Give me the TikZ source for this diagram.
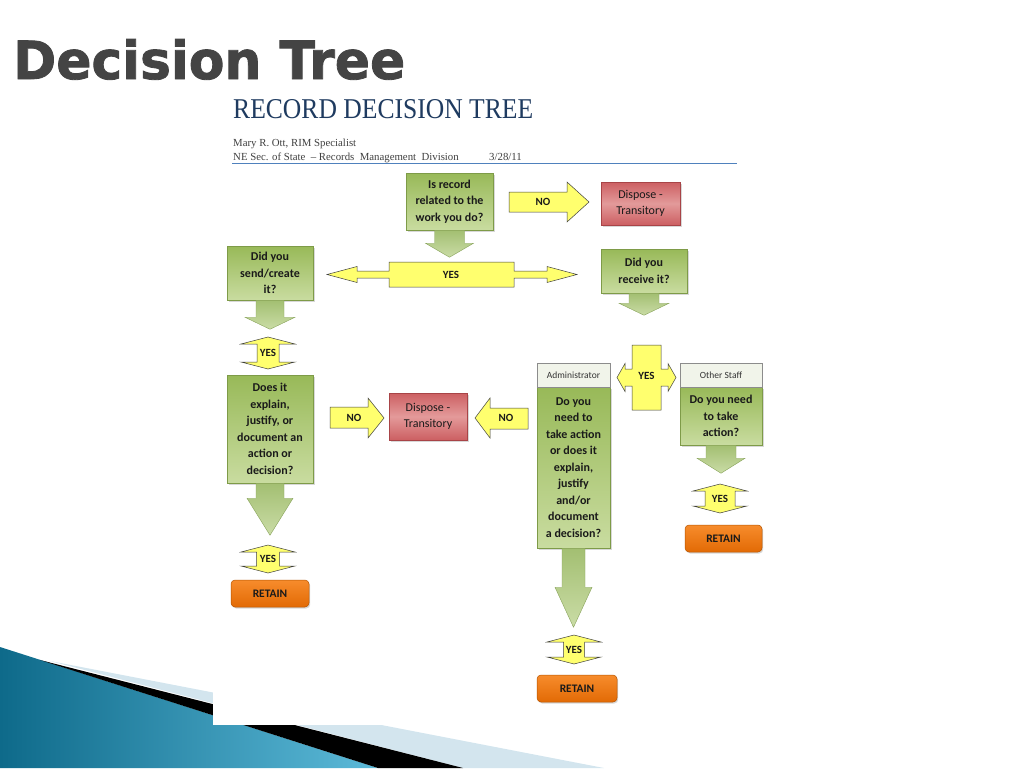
\documentclass[tikz,border=0pt]{standalone}
\usepackage{fontspec}
\setmainfont{Liberation Serif}
\newfontfamily\calfont{Carlito}
\newfontfamily\titlefont[FakeBold=1.6]{DejaVu Sans}
\usetikzlibrary{shadows,calc}
\definecolor{gtop}{HTML}{98B958}
\definecolor{gbot}{HTML}{C9DCA0}
\definecolor{gedge}{HTML}{7E9B48}
\definecolor{atop}{HTML}{A3BF72}
\definecolor{abot}{HTML}{CADCA6}
\definecolor{aedge}{HTML}{88A35A}
\definecolor{rtop}{HTML}{CC5F62}
\definecolor{rmid}{HTML}{E39A9A}
\definecolor{redge}{HTML}{A84447}
\definecolor{otop}{HTML}{F78C2C}
\definecolor{obot}{HTML}{E26A05}
\definecolor{oedge}{HTML}{B55400}
\definecolor{yfill}{HTML}{FFFF6E}
\definecolor{hfill}{HTML}{F1F4EA}
\definecolor{navy}{HTML}{1F3B60}
\definecolor{rulecol}{HTML}{4F81BD}
\definecolor{teal1}{HTML}{0E6A8A}
\definecolor{teal2}{HTML}{5CBAD9}
\definecolor{pale}{HTML}{D3E5EE}
\definecolor{ink}{HTML}{1A1A1A}
\definecolor{titlegray}{HTML}{444444}
\tikzset{
  gbox/.style={draw=gedge, line width=0.5pt, top color=gtop, bottom color=gbot,
    align=center, text=ink, inner sep=0pt,
    font=\calfont\bfseries\fontsize{12}{16.5}\selectfont,
    drop shadow={shadow xshift=1.5pt, shadow yshift=-1.5pt, opacity=0.3}},
  rbox/.style={draw=redge, line width=0.5pt, top color=rtop, bottom color=rtop, middle color=rmid,
    align=center, text=ink, inner sep=0pt,
    font=\calfont\fontsize{12}{16}\selectfont,
    drop shadow={shadow xshift=1.5pt, shadow yshift=-1.5pt, opacity=0.3}},
  obox/.style={draw=oedge, line width=0.5pt, rounded corners=4pt, top color=otop, bottom color=obot,
    align=center, text=ink, inner sep=0pt,
    font=\calfont\bfseries\fontsize{11.5}{14}\selectfont,
    drop shadow={shadow xshift=1.2pt, shadow yshift=-1.5pt, opacity=0.3}},
  hbox/.style={draw=black!45, line width=0.5pt, fill=hfill, inner sep=0pt,
    text=black!80, font=\calfont\fontsize{9.5}{11}\selectfont},
  garrow/.style={draw=aedge, line width=0.4pt, top color=atop, bottom color=abot},
  yarrow/.style={draw=black!75, line width=0.5pt, fill=yfill, line join=miter},
  ylabel/.style={inner sep=0pt, text=ink, font=\calfont\bfseries\fontsize{11}{13}\selectfont},
  hdrtext/.style={anchor=base west, inner sep=0pt, text=black!75, font=\fontsize{10.8}{12}\selectfont},
}
% down block arrow below a node: #1 node, #2 head base depth, #3 tip depth, #4 stem half width, #5 head half width
\newcommand\dnblock[5]{%
  \path[garrow] let \p1=(#1.south) in
    (\x1-#4pt,\y1) -- (\x1-#4pt,\y1-#2pt) -- (\x1-#5pt,\y1-#2pt) -- (\x1,\y1-#3pt)
    -- (\x1+#5pt,\y1-#2pt) -- (\x1+#4pt,\y1-#2pt) -- (\x1+#4pt,\y1) -- cycle;}
% up-down yes callout: #1 name, #2 cx, #3 top, #4 bottom, #5 rect half width
\newcommand\udyes[5]{%
  \path[yarrow] (#2,#3) -- (#2+27,#3+7) -- (#2+#5,#3+7) -- (#2+#5,#4-7) -- (#2+27,#4-7)
    -- (#2,#4) -- (#2-27,#4-7) -- (#2-#5,#4-7) -- (#2-#5,#3+7) -- (#2-27,#3+7) -- cycle;
  \node[ylabel] (#1) at (#2,{(#3+#4)/2}) {YES};}
\begin{document}
\begin{tikzpicture}[x=1pt,y=-1pt]
\useasboundingbox (0,0) rectangle (1024,768);
% bottom-left decoration
\shade[left color=teal1, right color=teal2] (0,647) -- (378,768) -- (0,768) -- cycle;
\fill[pale] (50,661) -- (604,768) -- (463,768) -- cycle;
\fill[black] (40,660) -- (463,768) -- (378,768) -- cycle;
% pasted image area
\fill[white] (213,88) rectangle (820,725);
% title
\node[anchor=south west, inner sep=0pt, text=titlegray] (title) at (13,80)
  {\resizebox{392pt}{40pt}{\titlefont\bfseries Decision Tree}};
\node[anchor=south west, inner sep=0pt, text=navy] (head) at (233,119)
  {\resizebox{300pt}{19pt}{RECORD DECISION TREE}};
\node[hdrtext] (author) at (233,146) {Mary R. Ott, RIM Specialist};
\node[hdrtext] (dept) at (233,160) {NE Sec. of State~~-- Records~ Management~ Division};
\node[hdrtext] (date) at (489,160) {3/28/11};
\coordinate (rl) at (232,163);
\coordinate (rr) at (737,163);
\draw[rulecol, line width=0.7pt] (rl) -- (rr);

% green question boxes
\node[gbox, minimum width=87pt, minimum height=57pt] (q1) at (449.5,201.5) {Is record\\related to the\\work you do?};
\node[gbox, minimum width=86pt, minimum height=54pt] (q2) at (270,273) {Did you\\send/create\\it?};
\node[gbox, minimum width=86pt, minimum height=44pt] (q3) at (644,271) {Did you\\receive it?};
\node[gbox, minimum width=86pt, minimum height=108pt] (q4) at (270,429) {Does it\\explain,\\justify, or\\document an\\action or\\decision?};
\node[gbox, minimum width=73pt, minimum height=161pt, text depth=0pt] (q5) at (573.5,467.5) {Do you\\need to\\take action\\or does it\\explain,\\justify\\and/or\\document\\a decision?};
\node[gbox, minimum width=82pt, minimum height=58pt] (q6) at (721,416) {Do you need\\to take\\action?};
\node[hbox, minimum width=73pt, minimum height=24pt] (adm) at (573.5,375) {Administrator};
\node[hbox, minimum width=82pt, minimum height=24pt] (oth) at (721,375) {Other Staff};

% dispose boxes
\node[rbox, minimum width=79pt, minimum height=43pt] (d1) at (640.5,203.5) {Dispose -\\Transitory};
\node[rbox, minimum width=78pt, minimum height=47pt] (d2) at (428,416.5) {Dispose -\\Transitory};

% retain boxes
\node[obox, minimum width=78pt, minimum height=27pt] (r1) at (270,593.5) {RETAIN};
\node[obox, minimum width=80pt, minimum height=27pt] (r2) at (577,688.5) {RETAIN};
\node[obox, minimum width=77pt, minimum height=27pt] (r3) at (723.5,538.5) {RETAIN};

% green down arrows
\dnblock{q1}{13}{27}{15}{24}
\dnblock{q2}{17}{29}{14}{25}
\dnblock{q3}{10}{22}{15}{25}
\dnblock{q4}{15}{52}{14}{23}
\dnblock{q5}{39}{79}{11.5}{18.5}
\dnblock{q6}{13}{28}{15}{24}

% horizontal YES double arrow
\path[yarrow] (327,274.5) -- (357,266.5) -- (357,271) -- (389,271) -- (389,262) -- (514,262)
  -- (514,271) -- (547,271) -- (547,266.5) -- (577,274.5) -- (547,282.5) -- (547,278)
  -- (514,278) -- (514,287) -- (389,287) -- (389,278) -- (357,278) -- (357,282.5) -- cycle;
\node[ylabel] (yes0) at (451,274.5) {YES};

% cross YES (left-right)
\path[yarrow] (617,377.5) -- (625,363.5) -- (625,369) -- (632,369) -- (632,345) -- (661,345)
  -- (661,369) -- (668,369) -- (668,363.5) -- (676,377.5) -- (668,391.5) -- (668,386)
  -- (661,386) -- (661,410) -- (632,410) -- (632,386) -- (625,386) -- (625,391.5) -- cycle;
\node[ylabel] (yesx) at (646.5,376) {YES};

% up-down YES callouts
\udyes{yes1}{268}{337}{369}{11}
\udyes{yes2}{268}{545}{573}{11.5}
\udyes{yes3}{574}{635}{664}{10.5}
\udyes{yes4}{720}{484}{513}{15}

% NO arrows
\path[yarrow] (509,192) -- (567,192) -- (567,182) -- (589,202) -- (567,222) -- (567,212) -- (509,212) -- cycle;
\node[ylabel] (no1) at (543,202) {NO};
\path[yarrow] (330,407) -- (368,407) -- (368,398) -- (384,418) -- (368,438) -- (368,428) -- (330,428) -- cycle;
\node[ylabel] (no2) at (354,418) {NO};
\path[yarrow] (528,408) -- (490,408) -- (490,398) -- (475,418) -- (490,438) -- (490,429) -- (528,429) -- cycle;
\node[ylabel] (no3) at (506,418) {NO};
\end{tikzpicture}
\end{document}
